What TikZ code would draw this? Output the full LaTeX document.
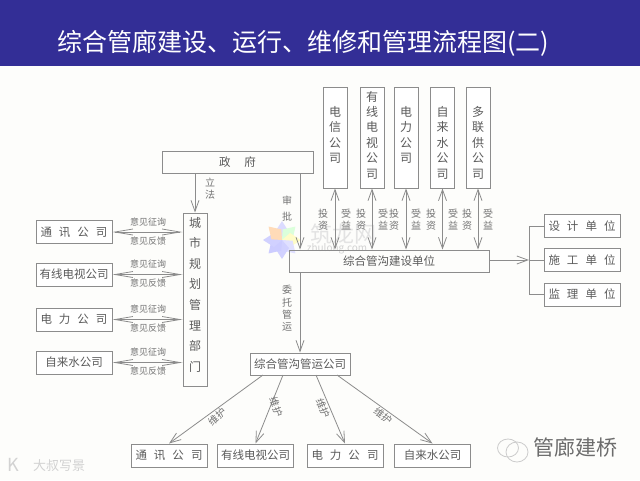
\documentclass[tikz,border=0pt]{standalone}
\usepackage{fontspec}
\setmainfont{Noto Sans CJK SC}
\usepackage{xcolor}
\usepackage{tikz}
\usetikzlibrary{arrows.meta, positioning}
\definecolor{bandblue}{HTML}{332E96}
\definecolor{paper}{HTML}{FDFDFB}
\definecolor{boxline}{HTML}{8C8C8C}
\definecolor{boxtext}{HTML}{5A5A5A}
\newcommand{\gapa}{\hspace{7pt}}
\tikzset{
  hbox/.style={
    rectangle, draw=boxline, fill=white,
    minimum width=76pt, minimum height=23pt, inner sep=0pt,
    font=\fontsize{11.5pt}{13pt}\selectfont, text=boxtext,
    line width=1pt,
  },
  vbox/.style={
    hbox, minimum width=24pt, minimum height=101pt,
    align=center, font=\fontsize{12pt}{15.4pt}\selectfont,
  },
  arrow/.style={-{Straight Barb[length=11pt,width=8pt]}, line width=0.8pt, boxline},
  twoway/.style={{Straight Barb[length=11pt,width=8pt]}-{Straight Barb[length=11pt,width=8pt]}, line width=0.8pt, boxline},
  lens/.style={{Straight Barb[length=18pt,width=6pt]}-{Straight Barb[length=18pt,width=6pt]}, line width=0.8pt, boxline},
  plain/.style={line width=0.8pt, boxline},
  note/.style={font=\fontsize{9pt}{11pt}\selectfont, text=boxtext!85, inner sep=0pt, align=center},
  vnote/.style={font=\fontsize{10pt}{12pt}\selectfont, text=boxtext!85, inner sep=0pt, align=center},
  tilted/.style={font=\fontsize{10pt}{12pt}\selectfont, text=boxtext!85, inner sep=0pt},
}

\begin{document}
\begin{tikzpicture}[x=1pt, y=-1pt]

  \useasboundingbox (0,0) rectangle (640,480);
  \fill[paper] (0,0) rectangle (640,480);
  \fill[bandblue] (0,0) rectangle (640,66);
  \node[anchor=west, inner sep=0pt, text=white, font=\fontsize{25pt}{28pt}\selectfont] (title) at (57,43)
    {综合管廊建设、运行、维修和管理流程图(二)};

  % Logo behind the middle of the chart
  \foreach \ang/\col in {90/blue!14, 45/green!14, 0/yellow!22, 315/blue!12, 270/blue!18, 225/blue!20, 180/blue!18, 135/orange!28}
    \fill[\col, rotate around={\ang:(282,240)}] (282,240) -- (290,233) -- (301,240) -- (290,247) -- cycle;
  \node[font=\fontsize{22pt}{26pt}\selectfont, text=gray!22, inner sep=0pt] (zlname) at (343,234) {筑龙网};
  \node[font=\fontsize{10pt}{12pt}\selectfont, text=gray!35, inner sep=0pt] (zlurl) at (337,249) {zhulong.com};

  % Government and planning office
  \node[hbox, minimum width=151pt, minimum height=22pt, fill=none] (zf) at (237.5,162) {政\hspace{14pt}府};
  \node[hbox, minimum width=24pt, minimum height=173pt, fill=none, align=center,
        font=\fontsize{12pt}{20.6pt}\selectfont] (gh) at (195,299.5)
    {城\\市\\规\\划\\管\\理\\部\\门\\[-10pt]~};

  % Left companies
  \node[hbox] (ltx) at (74,232)   {通\gapa 讯\gapa 公\gapa 司};
  \node[hbox] (lyx) at (74,274.5) {有线电视公司};
  \node[hbox] (ldl) at (74,319.5) {电\gapa 力\gapa 公\gapa 司};
  \node[hbox] (lzl) at (74,362.5) {自来水公司};

  % Top companies
  \node[vbox] (tdx) at (335,137.5) {~\\[-10.4pt]电\\信\\公\\司};
  \node[vbox] (tyx) at (372,137.5) {~\\[-10.4pt]有\\线\\电\\视\\公\\司};
  \node[vbox] (tdl) at (406,137.5) {~\\[-10.4pt]电\\力\\公\\司};
  \node[vbox] (tzl) at (442.5,137.5) {~\\[5pt]自\\来\\水\\公\\司};
  \node[vbox] (tdg) at (478,137.5) {~\\[5pt]多\\联\\供\\公\\司};

  % Builder and operator
  \node[hbox, minimum width=200pt, minimum height=22pt, fill=none] (js) at (389,261) {综合管沟建设单位\hspace{18pt}};
  \node[hbox, minimum width=100pt, minimum height=22pt] (yy) at (300,364) {综合管沟管运公司};

  % Right units
  \node[hbox] (sj) at (582,226) {设\gapa 计\gapa 单\gapa 位};
  \node[hbox] (sg) at (582,260) {施\gapa 工\gapa 单\gapa 位};
  \node[hbox] (jl) at (582,294.5) {监\gapa 理\gapa 单\gapa 位};
  \coordinate (jn) at (529,260);

  % Bottom companies
  \node[hbox] (btx) at (169,455.5) {通\gapa 讯\gapa 公\gapa 司};
  \node[hbox] (byx) at (255.5,455.5) {有线电视公司};
  \node[hbox] (bdl) at (345,455.5) {电\gapa 力\gapa 公\gapa 司};
  \node[hbox] (bzl) at (432.5,455.5) {自来水公司};

  % Arrows
  \draw[arrow] (zf.south -| gh) -- (gh.north);
  \draw[arrow] (zf.south -| yy) -- (js.north -| yy);
  \draw[arrow] (js.south -| yy) -- (yy.north);

  \foreach \co in {ltx, lyx, ldl, lzl}
    \draw[lens] (\co.east) -- (\co.east -| gh.west);

  \foreach \co in {tdx, tyx, tdl, tzl, tdg}
    \draw[twoway] (\co.south) -- (\co.south |- js.north);

  \draw[arrow] (js.east |- jn) -- (jn);
  \draw[plain] (sj.west) -| (jn);
  \draw[plain] (jn) -- (sg.west);
  \draw[plain] (jl.west) -| (jn);

  \coordinate (ya) at (263,375);
  \coordinate (yb) at (283,375);
  \coordinate (yc) at (316,375);
  \coordinate (yd) at (337,375);
  \foreach \from/\to in {ya/btx, yb/byx, yc/bdl, yd/bzl}
    \draw[arrow] (\from) -- (\to.north);

  % Labels on the left arrows
  \foreach \up/\dn/\nm in {222/241/a, 264/283/b, 309/328/c, 352/371/d} {
    \node[note] (zx\nm) at (148,\up) {意见征询};
    \node[note] (fk\nm) at (148,\dn) {意见反馈};
  }

  % Labels on the top arrows
  \foreach \xa/\xb/\nm in {323/346/a, 361/383/b, 394/416/c, 431/453/d, 467/488/e} {
    \node[vnote] (tz\nm) at (\xa,220) {投\\资};
    \node[vnote] (sy\nm) at (\xb,220) {受\\益};
  }

  \node[vnote] (lf) at (210,188.5) {立\\法};
  \node[vnote, font=\fontsize{10pt}{16pt}\selectfont] (sp) at (287,209) {审\\批};
  \node[vnote, font=\fontsize{10pt}{12.4pt}\selectfont] (wt) at (287,308.5) {委\\托\\管\\运};

  \node[tilted, rotate=42]  (wha) at (217,417) {维护};
  \node[tilted, rotate=-70] (whb) at (276,407) {维护};
  \node[tilted, rotate=-68] (whc) at (323,408) {维护};
  \node[tilted, rotate=-40] (whd) at (383,416) {维护};

  % Marks in the bottom corners
  \draw[gray!40, line width=0.8pt] (508,448) ellipse (10.5pt and 9pt);
  \draw[gray!40, line width=0.8pt] (517,452) ellipse (11pt and 10pt);
  \node[font=\fontsize{21pt}{24pt}\selectfont, text=gray!85!black, inner sep=0pt] (gljq) at (575.5,448) {管廊建桥};
  \node[font=\fontsize{13pt}{15pt}\selectfont, text=gray!35, inner sep=0pt, anchor=west] (dsxj) at (33,466) {大叔写景};
  \node[font=\fontsize{18pt}{20pt}\selectfont, text=gray!35, inner sep=0pt, anchor=west] (wb) at (7,465) {K};

\end{tikzpicture}
\end{document}
